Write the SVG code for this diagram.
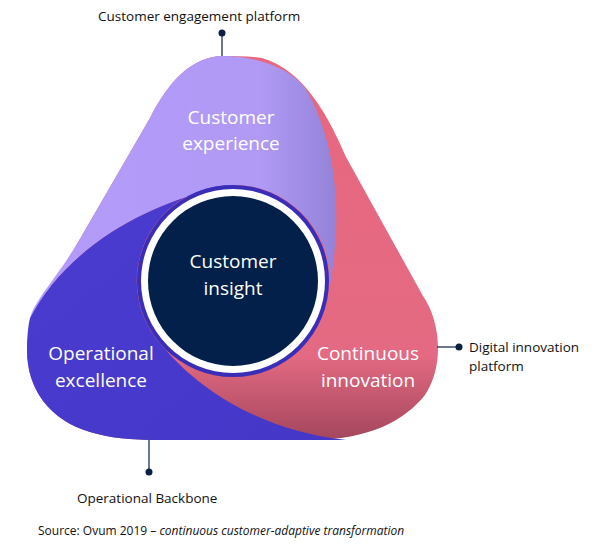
<svg xmlns="http://www.w3.org/2000/svg" width="600" height="546" viewBox="0 0 600 546">
<style>
.lab{font-family:"Open Sans","Liberation Sans",sans-serif;font-size:13.5px;fill:#111}
.in{font-family:"Open Sans","Liberation Sans",sans-serif;font-size:19px;fill:#fff;text-anchor:middle}
.ln{stroke:#0b1f44;stroke-width:1.2}
.dot{fill:#0b1f44}
</style>
<defs>
<linearGradient id="gp" x1="0" y1="0" x2="1" y2="0"><stop offset="0" stop-color="#b49bfb"/><stop offset="0.75" stop-color="#b09af5"/><stop offset="1" stop-color="#9482d8"/></linearGradient>
<linearGradient id="gk" x1="0" y1="0" x2="0" y2="1"><stop offset="0" stop-color="#e8677f"/><stop offset="0.78" stop-color="#e36a82"/><stop offset="1" stop-color="#a4465d"/></linearGradient>
<linearGradient id="gb" x1="0" y1="0" x2="1" y2="1"><stop offset="0" stop-color="#4a3ccf"/><stop offset="1" stop-color="#4537c8"/></linearGradient>
</defs>
<g id="pink-lobe"><path fill="url(#gk)" d="M223,56 C192,56 168,82 150,118 L77,244 C50,290 27,315 27,350 C27,390 50,420 90,432 C110,438 130,440 160,440 L310,440 C370,440 405,420 425,395 C445,365 440,320 423,296 L346,157 C330,120 305,70 262,58 C250,56 235,56 223,56 Z"/></g>
<g id="purple-lobe"><path fill="url(#gp)" d="M223,56 C192,56 168,82 150,118 L77,244 C55,280 35,300 30,318 C60,260 130,205 233,185 A96 96 0 0 1 330,285 C340,230 342,150 305,88 C288,66 252,56 223,56 Z"/></g>
<g id="blue-lobe"><path fill="url(#gb)" d="M30,318 C60,260 130,205 233,185 A96 96 0 0 0 165,349 C200,390 260,430 346,440 L160,440 C130,440 110,438 90,432 C50,420 27,390 27,350 C27,338 28,326 30,318 Z"/></g>
<g id="center">
<circle cx="233" cy="281" r="96" fill="#3a2db8"/>
<circle cx="233" cy="281" r="92" fill="#fff"/>
<circle cx="233" cy="281" r="85" fill="#03204a"/>
<text class="in" x="233" y="268">Customer</text>
<text class="in" x="233" y="295">insight</text>
</g>
<text class="in" x="231" y="124">Customer</text>
<text class="in" x="231" y="150">experience</text>
<text class="in" x="101" y="360">Operational</text>
<text class="in" x="101" y="387">excellence</text>
<text class="in" x="368" y="360">Continuous</text>
<text class="in" x="368" y="387">innovation</text>
<g id="connectors">
<line class="ln" x1="222" y1="33" x2="222" y2="56"/><circle class="dot" cx="222" cy="33" r="3.5"/>
<line class="ln" x1="437" y1="347" x2="459" y2="347"/><circle class="dot" cx="459" cy="347" r="3.5"/>
<line class="ln" x1="149" y1="440" x2="149" y2="472"/><circle class="dot" cx="149" cy="472" r="3.5"/>
</g>
<text class="lab" x="98" y="21">Customer engagement platform</text>
<text class="lab" x="469" y="352">Digital innovation</text>
<text class="lab" x="469" y="371">platform</text>
<text class="lab" x="77" y="503">Operational Backbone</text>
<text class="lab" x="38" y="535" style="font-size:12px">Source: Ovum 2019 – <tspan font-style="italic">continuous customer-adaptive transformation</tspan></text>
</svg>
